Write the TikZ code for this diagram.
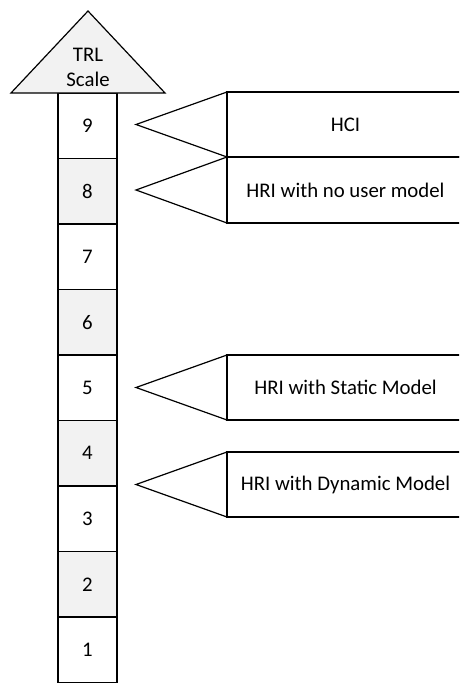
\documentclass[tikz,border=0pt]{standalone}
\usepackage{fontspec}
\setmainfont{Carlito}
\definecolor{lightfill}{HTML}{F2F2F2}
\begin{document}
\begin{tikzpicture}[x=1pt,y=-1pt,
  line width=1.2pt, line join=miter,
  txt/.style={font=\fontsize{20.8}{25}\selectfont, inner sep=0pt, align=center},
  whitebox/.style={draw=black, fill=white},
  graybox/.style={draw=black, fill=lightfill}]
\useasboundingbox (0,0) rectangle (459,683);
\clip (0,0) rectangle (459,683);

% column of TRL levels
\foreach \n [count=\k from 0] in {9,8,7,6,5,4,3,2,1} {
  \pgfmathsetmacro{\ytop}{93+65.5*\k}
  \pgfmathsetmacro{\ybot}{93+65.5*(\k+1)}
  \pgfmathtruncatemacro{\odd}{mod(\k,2)}
  \ifnum\odd=1
    \path[graybox] (58,\ytop) rectangle (117,\ybot);
  \else
    \path[whitebox] (58,\ytop) rectangle (117,\ybot);
  \fi
  \node[txt] (lvl\n) at (87.5,{(\ytop+\ybot)/2}) {\n};
}

% arrow head
\path[graybox] (88,11) -- (165,93) -- (11,93) -- cycle;
\node[txt] (trl) at (88,67) {TRL\\Scale};

% callouts
\foreach \name/\t/\b/\lab in {hci/92/157/HCI, nouser/157/223/HRI with no user model, static/355/420/HRI with Static Model, dynamic/452/517/HRI with Dynamic Model} {
  \path[whitebox] (136,{(\t+\b)/2}) -- (227,\t) -- (227,\b) -- cycle;
  \path[whitebox] (227,\t) rectangle (464,\b);
  \node[txt] (\name) at (345.5,{(\t+\b)/2}) {\lab};
}
\end{tikzpicture}
\end{document}
